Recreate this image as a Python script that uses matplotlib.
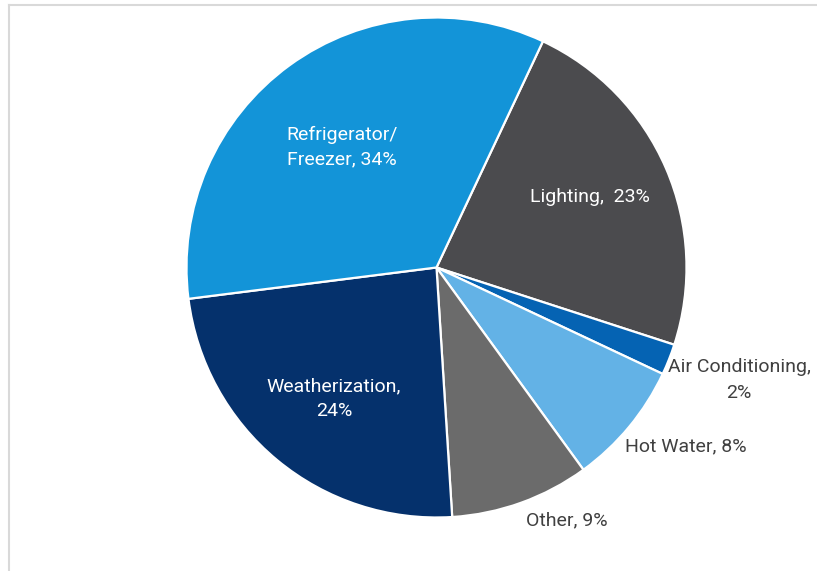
import matplotlib
matplotlib.use("Agg")
import matplotlib.pyplot as plt
from matplotlib.lines import Line2D

# Share of savings by end use (clockwise from the top)
categories = ["Lighting", "Air Conditioning", "Hot Water", "Other", "Weatherization", "Refrigerator/\nFreezer"]
shares = [23, 2, 8, 9, 24, 34]
label_text = ["Lighting,  23%", "Air Conditioning,\n2%", "Hot Water, 8%", "Other, 9%",
              "Weatherization,\n24%", "Refrigerator/\nFreezer, 34%"]

colors = ["#4b4b4e", "#0563b3", "#63b2e6", "#6b6b6b", "#05316c", "#1394d8"]
text_colors = ["white", "#404040", "#404040", "#404040", "white", "white"]
# label anchor points in pie-radius units
label_pos = [(0.614, 0.282), (1.21, -0.45), (0.998, -0.714), (0.522, -1.01),
             (-0.41, -0.526), (-0.378, 0.482)]

plt.rcParams["font.family"] = ["Roboto", "DejaVu Sans"]

W, H = 817, 571
fig = plt.figure(figsize=(W / 100, H / 100), dpi=100)
ax = fig.add_axes([0, 0, 1, 1])
ax.axis("off")

cx, cy, r = 436.5, 303.5, 250.0

ax.pie(shares, colors=colors, startangle=64.8, counterclock=False, radius=1.0,
       wedgeprops=dict(edgecolor="white", linewidth=1.6), frame=False)
ax.set_xlim(-cx / r, (W - cx) / r)
ax.set_ylim(-cy / r, (H - cy) / r)
ax.set_aspect("auto")

for txt, (x, y), c in zip(label_text, label_pos, text_colors):
    ax.text(x, y, txt, ha="center", va="center", color=c, fontsize=14,
            linespacing=1.5)

# thin border on the top and left edges
fig.add_artist(Line2D([8.5 / W, 8.5 / W], [0, 1 - 4.5 / H], transform=fig.transFigure,
                      color="#d9d9d9", linewidth=1.5))
fig.add_artist(Line2D([8.5 / W, 1], [1 - 4.5 / H, 1 - 4.5 / H], transform=fig.transFigure,
                      color="#d9d9d9", linewidth=1.5))

fig.savefig("out.png", dpi=100, facecolor="white")
